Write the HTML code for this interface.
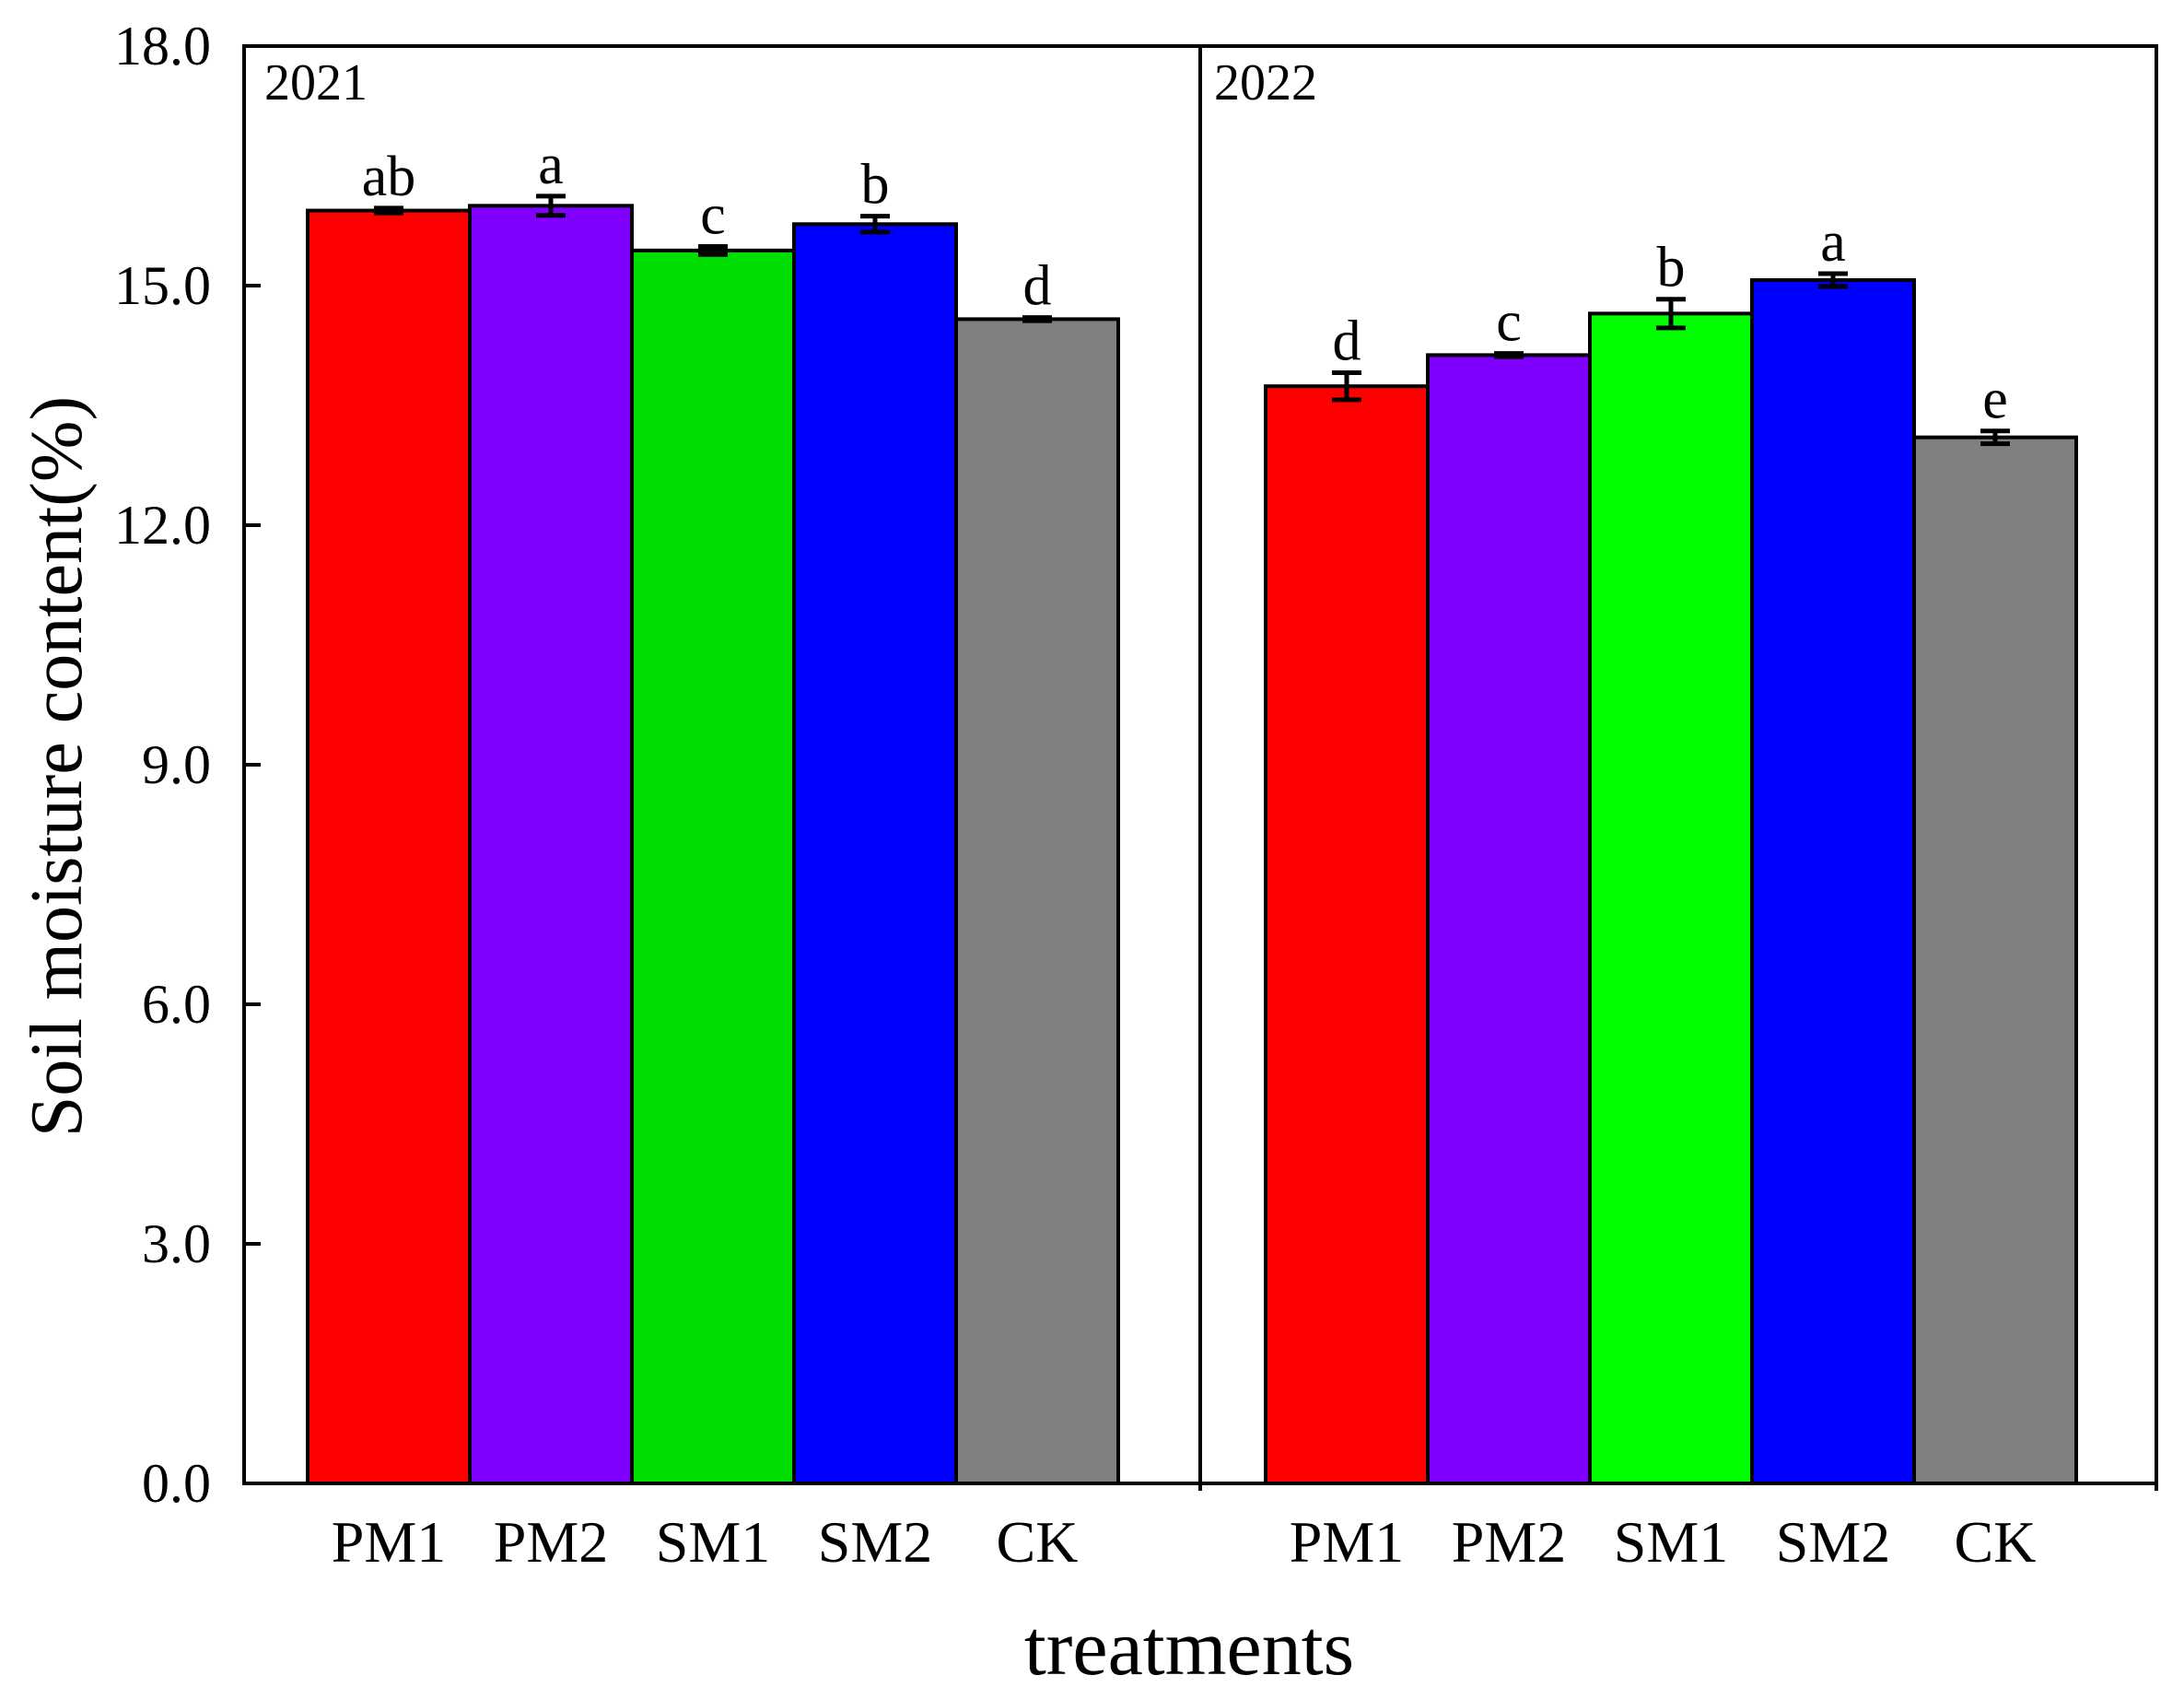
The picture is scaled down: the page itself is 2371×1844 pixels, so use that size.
<!DOCTYPE html>
<html><head><meta charset="utf-8"><style>
html,body{margin:0;padding:0;background:#fff}
svg{display:block}
text{font-family:"Liberation Serif",serif;fill:#000}
</style></head><body>
<svg id="chart" width="2371" height="1844" viewBox="0 0 2371 1844" xmlns="http://www.w3.org/2000/svg"></svg>
<script>
const categories = ["PM1","PM2","SM1","SM2","CK"];
const years = ["2021","2022"];
const values2021 = [15.94,16.0,15.44,15.77,14.58];
const errors2021 = [0.03,0.12,0.05,0.10,0.02];
const letters2021 = ["ab","a","c","b","d"];
const values2022 = [13.74,14.13,14.65,15.07,13.10];
const errors2022 = [0.17,0.02,0.18,0.08,0.08];
const letters2022 = ["d","c","b","a","e"];
const yTicks = [0,3,6,9,12,15,18];
const yTickLabels = ["0.0","3.0","6.0","9.0","12.0","15.0","18.0"];
const colors = ["#ff0000","#8000ff","#00dd00","#0000ff","#808080"];
const colors2022 = ["#ff0000","#8000ff","#00ff00","#0000ff","#808080"];

const NS="http://www.w3.org/2000/svg";
const svg=document.getElementById('chart');
const L=265,R=2341,T=50,B=1610,DIV=1303;
const yMax=18;
function y(v){return B-(v/yMax)*(B-T);}
const barW=176;
const panelStart=[334,1374];
function x(panel,i){return panelStart[panel]+i*barW;}
function mk(tag,attrs){const e=document.createElementNS(NS,tag);for(const k in attrs)e.setAttribute(k,attrs[k]);svg.appendChild(e);return e;}

const series=[[values2021,errors2021,letters2021,colors],[values2022,errors2022,letters2022,colors2022]];
series.forEach((s,p)=>{
  s[0].forEach((v,i)=>{
    const r=mk('rect',{x:x(p,i),y:y(v),width:barW,height:B-y(v),fill:s[3][i],stroke:'#000','stroke-width':4});
    
    
    const cx=x(p,i)+barW/2, e=s[1][i];
    const eb=mk('path',{d:`M${cx},${y(v+e)}V${y(v-e)}M${cx-16},${y(v+e)}H${cx+16}M${cx-16},${y(v-e)}H${cx+16}`,stroke:'#000','stroke-width':5,fill:'none'});
    
    
    const t=mk('text',{x:cx,y:y(v+e)-14,'text-anchor':'middle','font-size':62});
    t.textContent=s[2][i];
    
    
    const xl=mk('text',{x:cx,y:1695,'text-anchor':'middle','font-size':64});
    xl.textContent=categories[i];
    
    
  });
});
const fr=mk('rect',{x:L,y:T,width:R-L,height:B-T,fill:'none',stroke:'#000','stroke-width':4});


const dv=mk('line',{x1:DIV,y1:T,x2:DIV,y2:B+8,stroke:'#000','stroke-width':4});


const rt=mk('line',{x1:R,y1:B,x2:R,y2:B+8,stroke:'#000','stroke-width':4});


yTicks.forEach((v,i)=>{
  const tk=mk('line',{x1:L,y1:y(v),x2:L+18,y2:y(v),stroke:'#000','stroke-width':4});
  
  
  const tl=mk('text',{x:229,y:y(v)+20,'text-anchor':'end','font-size':60});
  tl.textContent=yTickLabels[i];
  
  
});
[[287,years[0]],[1318,years[1]]].forEach(([px,lab])=>{
  const t=mk('text',{x:px,y:108,'font-size':56});
  t.textContent=lab;
  
  
});
const xt=mk('text',{x:1291,y:1817,'text-anchor':'middle','font-size':86});
xt.textContent='treatments';


const yt=mk('text',{x:0,y:0,'text-anchor':'middle','font-size':80,transform:'translate(88,832) rotate(-90)'});
yt.textContent='Soil moisture content(%)';


</script>
</body></html>
